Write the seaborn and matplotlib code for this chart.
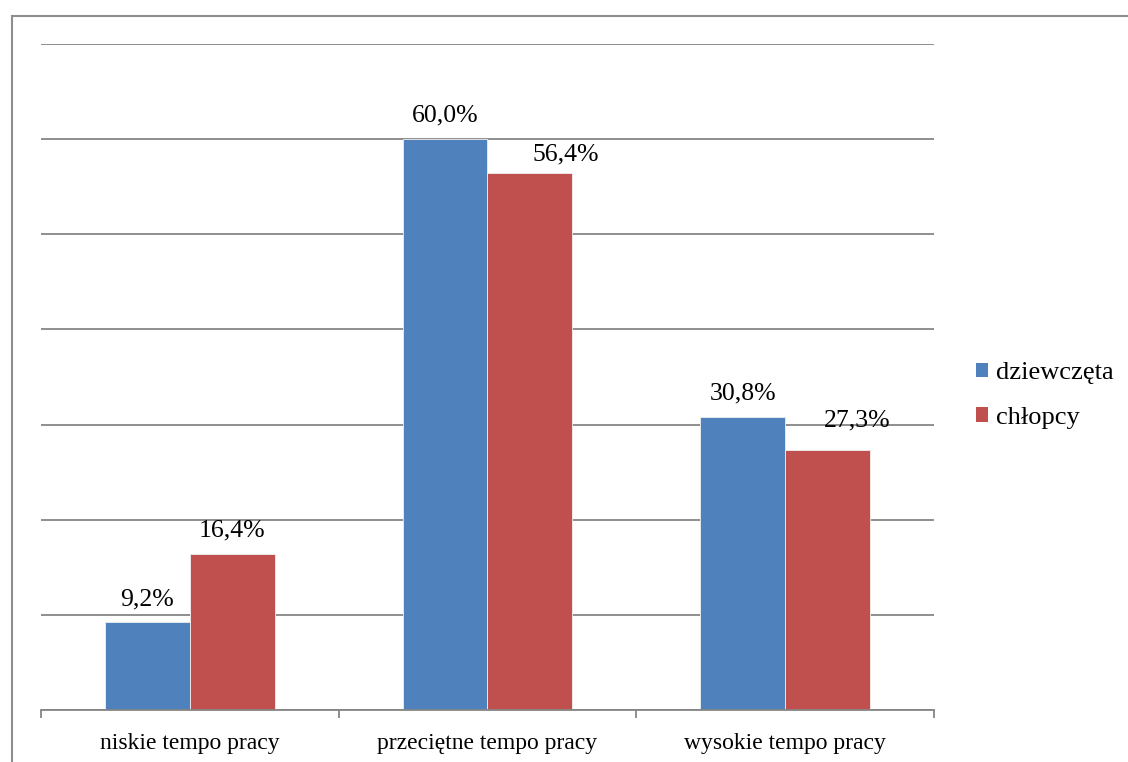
import matplotlib
matplotlib.use("Agg")
import matplotlib.pyplot as plt
from matplotlib.patches import Patch, Rectangle
import numpy as np
import pandas as pd
import seaborn as sns

# Data
categories = ["niskie tempo pracy", "przeciętne tempo pracy", "wysokie tempo pracy"]
series_names = ["dziewczęta", "chłopcy"]
dziewczeta = [9.2, 60.0, 30.8]
chlopcy = [16.4, 56.4, 27.3]

colors = ["#4F81BD", "#C0504D"]

df = pd.DataFrame({
    "kategoria": categories * 2,
    "grupa": [series_names[0]] * 3 + [series_names[1]] * 3,
    "wartosc": dziewczeta + chlopcy,
})

sns.set_theme(style="white")
plt.rcParams["font.family"] = ["Liberation Serif", "DejaVu Serif"]
plt.rcParams["text.color"] = "black"

W, H = 1128, 762
fig = plt.figure(figsize=(W / 100, H / 100), dpi=100)
ax = fig.add_axes([41 / W, 1 - 710 / H, (934 - 41) / W, (710 - 44) / H])

sns.barplot(data=df, x="kategoria", y="wartosc", hue="grupa",
            hue_order=series_names, palette=colors, width=0.57,
            saturation=1, ax=ax, legend=False,
            edgecolor="#f0f0f0", linewidth=0.6)

ax.set_xlim(-0.5, 2.5)
ax.set_ylim(0, 70)
ax.set_yticks(np.arange(0, 71, 10))
ax.set_yticklabels([])
ax.tick_params(axis="y", length=0)
ax.grid(axis="y", color="#868686", linewidth=1.3)
ax.set_axisbelow(True)
ax.set_xlabel("")
ax.set_ylabel("")

for side in ["left", "right", "top"]:
    ax.spines[side].set_visible(False)
ax.spines["bottom"].set_color("#868686")
ax.spines["bottom"].set_linewidth(1.3)

# category boundary ticks
ax.set_xticks(np.arange(-0.5, 2.6, 1.0), minor=True)
ax.tick_params(axis="x", which="minor", length=6, width=1.3, color="#868686",
               direction="out", bottom=True)
ax.tick_params(axis="x", which="major", length=0, pad=16.5, labelsize=17,
               labelcolor="black")
ax.set_xticks(range(len(categories)))
ax.set_xticklabels(categories)

# value labels (offsets in points: dx, dy above bar top to baseline)
label_offsets = {
    (1, 1): (26, 9.5),
    (2, 1): (21.5, 17),
}
for j, vals in enumerate([dziewczeta, chlopcy]):
    for i, v in enumerate(vals):
        x = i + (-0.1425 if j == 0 else 0.1425)
        dx, dy = label_offsets.get((i, j), (0, 12.5))
        ax.annotate(f"{v:.1f}%".replace(".", ","), xy=(x, v),
                    xytext=(dx, dy), textcoords="offset points",
                    ha="center", va="baseline", fontsize=18.5, color="black")

# legend
handles = [Patch(facecolor=c, edgecolor="none") for c in colors]
fig.legend(handles, series_names, loc="center left",
           bbox_to_anchor=(976 / W, 1 - 395.5 / H), frameon=False,
           fontsize=19, handlelength=0.47, handleheight=0.47,
           handletextpad=0.28, labelspacing=0.85, borderpad=0,
           borderaxespad=0, labelcolor="black")

# outer frame
fig.patches.append(Rectangle((11.5 / W, -0.1), 1.2, 1.1 - 15.5 / H,
                             transform=fig.transFigure, fill=False,
                             edgecolor="#8e8e8e", linewidth=1.5))

fig.savefig("out.png", dpi=100)
